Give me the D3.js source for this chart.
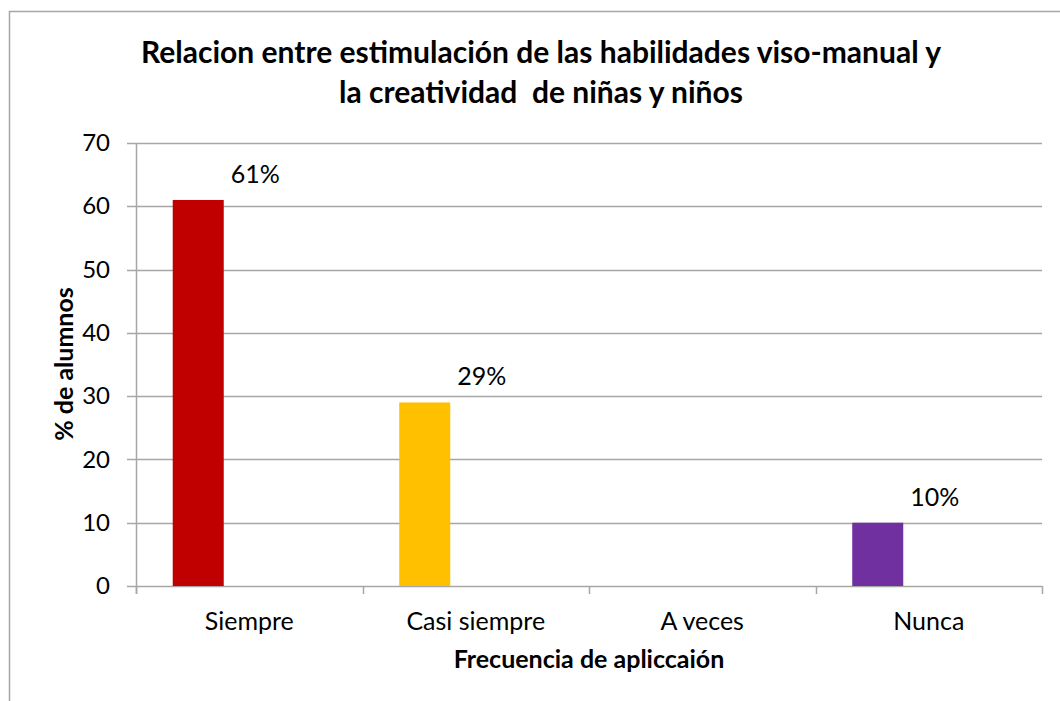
<!DOCTYPE html>
<html>
<head>
<meta charset="utf-8">
<script src="https://cdn.jsdelivr.net/npm/d3@7"></script>
<style>
    body { margin: 0; background: #fff; }
    text { font-family: Lato, "Open Sans", sans-serif; fill: #000; }
</style>
</head>
<body>
<div id="chart"></div>
<script>
"use strict";

// Chart data
var categories = ["Siempre", "Casi siempre", "A veces", "Nunca"];
var values = [61, 29, 0, 10];
var labels = ["61%", "29%", "", "10%"];
var barColors = ["#C00000", "#FFC000", "#4F81BD", "#7030A0"];
var yTicks = [0, 10, 20, 30, 40, 50, 60, 70];
var titleLines = ["Relacion entre estimulación de las habilidades viso-manual y", "la creatividad  de niñas y niños"];

function renderChart(){

    const W = 1060, H = 701;
    var margin = { top: 143, right: 18, bottom: 115, left: 136 };
    var width = W - margin.left - margin.right;
    var height = H - margin.top - margin.bottom;

    var svg = d3.select("#chart").append("svg")
        .attr("width", W)
        .attr("height", H);

    // outer border (chart area frame)
    svg.append("rect")
        .attr("x", 9.5).attr("y", 11.5)
        .attr("width", W).attr("height", H)
        .attr("fill", "none")
        .attr("stroke", "#a6a6a6")
        .attr("stroke-width", 1.5);

    // Title
    svg.append("text")
        .attr("text-anchor", "middle")
        .attr("font-weight", "bold")
        .attr("font-size", "30px")
        .style("white-space", "pre")
        .selectAll("tspan")
        .data(titleLines)
        .enter().append("tspan")
        .attr("x", 541)
        .attr("y", function(d, i){ return 63 + i * 40; })
        .text(function(d){ return d; });

    var g = svg.append("g")
        .attr("transform", "translate(" + margin.left + "," + margin.top + ")");

    // Scales
    var xScale = d3.scaleBand().domain(categories).range([0, width]).padding(0);
    var yScale = d3.scaleLinear().domain([0, 70]).range([height, 0]);

    // three slots per category, first slot holds the bar
    var slot = d3.scaleBand().domain([0, 1, 2]).range([0, xScale.bandwidth()]).paddingOuter(0.72).paddingInner(0);

    // gridlines
    g.append("g")
        .selectAll("line")
        .data(yTicks)
        .enter().append("line")
        .attr("x1", -9).attr("x2", width)
        .attr("y1", function(d){ return Math.round(yScale(d)) + 0.5; })
        .attr("y2", function(d){ return Math.round(yScale(d)) + 0.5; })
        .attr("stroke", "#a6a6a6")
        .attr("stroke-width", 1.5);

    // Y axis
    var yAxis = d3.axisLeft(yScale).tickValues(yTicks).tickSize(0).tickPadding(26);
    var yAxisG = g.append("g").call(yAxis);
    yAxisG.select(".domain").remove();
    yAxisG.selectAll("text")
        .attr("font-size", "24px")
        .attr("font-family", "Lato, sans-serif")
        .attr("fill", "#000");

    g.append("line")
        .attr("x1", 0.5).attr("x2", 0.5)
        .attr("y1", 0).attr("y2", height + 8)
        .attr("stroke", "#a6a6a6").attr("stroke-width", 1.5);

    // X axis
    var xAxis = d3.axisBottom(xScale).tickSize(0).tickPadding(26);
    var xAxisG = g.append("g")
        .attr("transform", "translate(0," + height + ")")
        .call(xAxis);
    xAxisG.select(".domain").remove();
    xAxisG.selectAll("text")
        .attr("font-size", "25px")
        .attr("font-family", "Lato, sans-serif")
        .attr("fill", "#000");

    // category separators
    var bounds = categories.map(function(c){ return xScale(c); }).concat([width]);
    g.append("g")
        .selectAll("line")
        .data(bounds)
        .enter().append("line")
        .attr("x1", function(d){ return Math.round(d) + 0.5; })
        .attr("x2", function(d){ return Math.round(d) + 0.5; })
        .attr("y1", height).attr("y2", height + 8)
        .attr("stroke", "#a6a6a6").attr("stroke-width", 1.5);

    // Bars
    var data = categories.map(function(c, i){
        return { cat: c, value: values[i], label: labels[i], color: barColors[i] };
    });

    g.selectAll(".bar")
        .data(data)
        .enter().append("rect")
        .attr("class", "bar")
        .attr("x", function(d){ return xScale(d.cat) + slot(0); })
        .attr("width", slot.bandwidth())
        .attr("y", function(d){ return yScale(d.value); })
        .attr("height", function(d){ return height - yScale(d.value); })
        .attr("fill", function(d){ return d.color; });

    // Data labels
    g.selectAll(".lbl")
        .data(data)
        .enter().append("text")
        .attr("class", "lbl")
        .attr("text-anchor", "middle")
        .attr("font-size", "25px")
        .attr("x", function(d){ return xScale(d.cat) + slot(1) + slot.bandwidth() / 2 + 6; })
        .attr("y", function(d){ return yScale(d.value) - 17; })
        .text(function(d){ return d.label; });

    // Axis titles
    svg.append("text")
        .attr("text-anchor", "middle")
        .attr("font-weight", "bold")
        .attr("font-size", "25px")
        .attr("x", 589)
        .attr("y", 668)
        .text("Frecuencia de apliccaión");

    svg.append("text")
        .attr("text-anchor", "middle")
        .attr("font-weight", "bold")
        .attr("font-size", "25px")
        .attr("transform", "translate(73," + 364 + ")rotate(-90)")
        .text("% de alumnos");
}

renderChart();
</script>
</body>
</html>
